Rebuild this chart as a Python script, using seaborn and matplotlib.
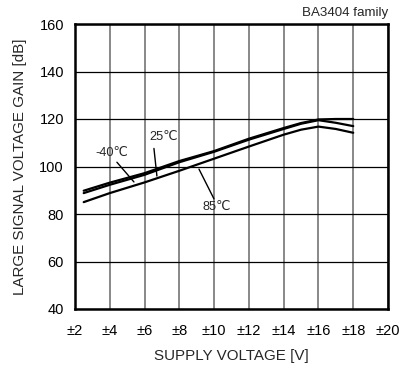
import numpy as np
import pandas as pd
import matplotlib
matplotlib.use("Agg")
import matplotlib.pyplot as plt
import seaborn as sns

# Data
supply_v = [2.5, 4, 6, 8, 10, 12, 14, 15, 16, 17, 18]
gain_m40 = [89.8, 93.2, 97.2, 102.3, 106.5, 111.7, 116.2, 118.3, 119.8, 120.0, 120.0]
gain_25 = [88.8, 92.3, 96.5, 101.8, 106.2, 111.3, 115.8, 118.0, 119.5, 118.4, 117.0]
gain_85 = [85.0, 88.8, 93.3, 98.2, 103.3, 108.4, 113.4, 115.5, 116.8, 115.8, 114.2]
series_names = ["-40℃", "25℃", "85℃"]
x_ticks = [2, 4, 6, 8, 10, 12, 14, 16, 18, 20]
x_tick_labels = ["±2", "±4", "±6", "±8", "±10", "±12", "±14", "±16", "±18", "±20"]
y_ticks = [40, 60, 80, 100, 120, 140, 160]

df = pd.concat([
    pd.DataFrame({"V": supply_v, "G": g, "T": n})
    for g, n in zip([gain_m40, gain_25, gain_85], series_names)
])

sns.set_theme(style="white")
plt.rcParams["font.family"] = ["Liberation Sans", "DejaVu Sans"]

fig = plt.figure(figsize=(3.99, 3.70), dpi=100)
ax = fig.add_axes([75 / 399, 1 - 309 / 370, (388 - 75) / 399, (309 - 24) / 370])

for xv in x_ticks:
    ax.axvline(xv, color="#7f7f7f", lw=1.3, zorder=1)
for yv in y_ticks:
    ax.axhline(yv, color="black", lw=0.9, zorder=1)

sns.lineplot(data=df, x="V", y="G", hue="T", palette=["black"] * 3,
             legend=False, lw=1.6, ax=ax, zorder=3, sort=False)

ax.set_xlim(2, 20)
ax.set_ylim(40, 160)
ax.set_xticks(x_ticks)
ax.set_xticklabels(x_tick_labels)
ax.set_yticks(y_ticks)
ax.tick_params(axis="both", length=0, labelsize=10.5, colors="black")
ax.tick_params(axis="x", pad=11)
ax.tick_params(axis="y", pad=8)
for s in ax.spines.values():
    s.set_color("black")
    s.set_linewidth(1.8)
    s.set_visible(True)

ax.set_xlabel("SUPPLY VOLTAGE [V]", fontsize=10.9, labelpad=8)
ax.set_ylabel("LARGE SIGNAL VOLTAGE GAIN [dB]", fontsize=10.9, labelpad=9)

ax.text(1.0, 1.016, "BA3404 family", transform=ax.transAxes, ha="right",
        va="bottom", fontsize=9.6)

# curve labels and leader lines
lbl = dict(fontsize=9.2, ha="center", va="center")
ax.text(4.1, 105.8, series_names[0], **lbl)
ax.text(7.1, 112.6, series_names[1], **lbl)
ax.text(10.15, 82.8, series_names[2], **lbl)
lead = dict(arrowprops=dict(arrowstyle="-", color="black", lw=1.0,
                            shrinkA=0, shrinkB=0))
ax.annotate("", xy=(5.39, 93.5), xytext=(4.41, 101.8), **lead)
ax.annotate("", xy=(6.71, 96.0), xytext=(6.54, 107.6), **lead)
ax.annotate("", xy=(9.13, 98.9), xytext=(9.99, 86.4), **lead)

fig.savefig("out.png", dpi=100)
